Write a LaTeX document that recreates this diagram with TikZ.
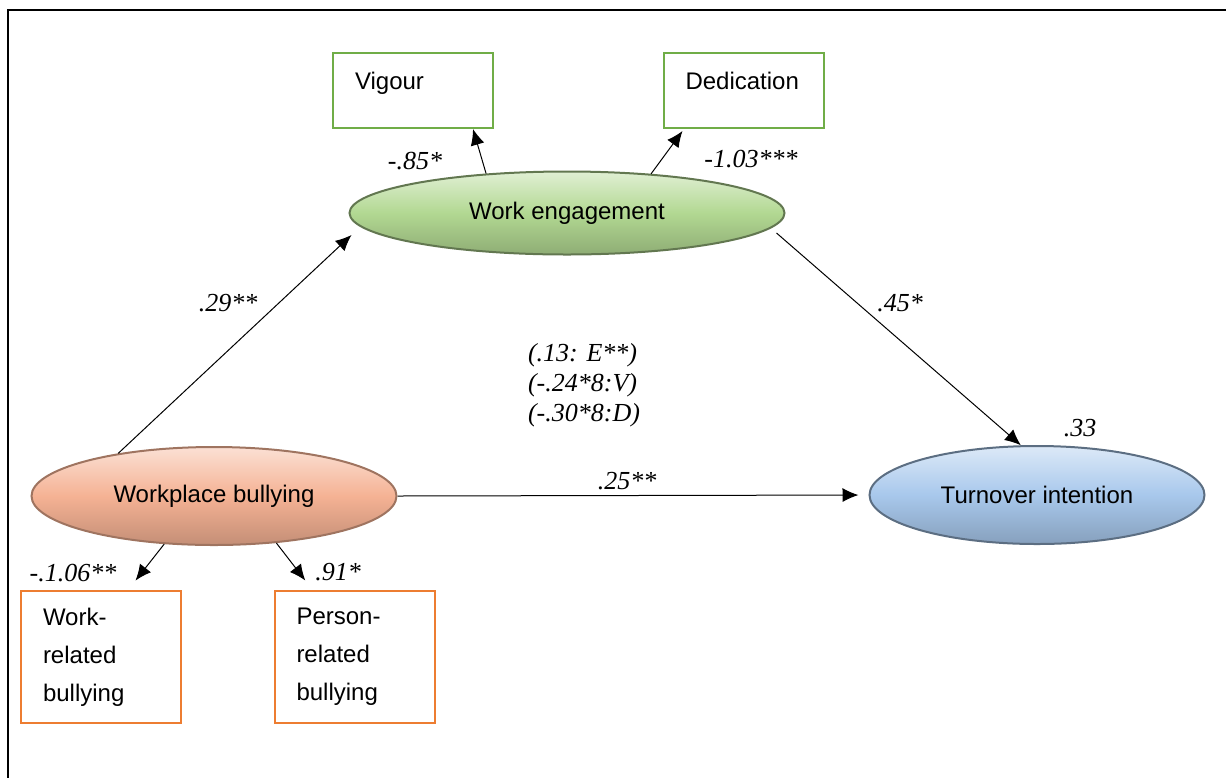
\documentclass[tikz,border=0pt]{standalone}
\usepackage{fontspec}
\setmainfont{Liberation Serif}
\setsansfont{Liberation Sans}
\usetikzlibrary{shapes.geometric,arrows.meta}

\definecolor{boxgreen}{RGB}{112,173,71}
\definecolor{boxorange}{RGB}{237,125,49}
\definecolor{wegreen}{RGB}{178,216,146}
\definecolor{wbpeach}{RGB}{245,178,148}
\definecolor{tiblue}{RGB}{168,200,236}

\tikzset{
  latent/.style={ellipse,inner sep=0pt,line width=1pt,
    font=\sffamily\fontsize{12}{14}\selectfont},
  indic/.style={rectangle,line width=1pt,inner xsep=11pt,align=left,
    text width=58pt,font=\sffamily\fontsize{12}{19}\selectfont},
  coef/.style={inner sep=0pt,font=\itshape\fontsize{13}{15}\selectfont},
  path/.style={line width=0.5pt,-{Latex[length=8pt,width=7pt]}}
}

\begin{document}
\begin{tikzpicture}[x=0.5pt,y=-0.5pt]
\useasboundingbox (0,0) rectangle (1226,778);
\draw[line width=1.2pt] (1226,10) -- (8,10) -- (8,778);

% latent variables
\node[latent,minimum width=217.5pt,minimum height=41.5pt,draw=wegreen!55!black,
  top color=wegreen!40,bottom color=wegreen!80!black,middle color=wegreen]
  (we) at (567,213) {Work engagement};
\node[latent,minimum width=182.5pt,minimum height=49pt,draw=wbpeach!65!black,
  top color=wbpeach!40,bottom color=wbpeach!80!black,middle color=wbpeach]
  (wb) at (214,496) {Workplace bullying};
\node[latent,minimum width=167.5pt,minimum height=49pt,draw=tiblue!55!black,
  top color=tiblue!40,bottom color=tiblue!80!black,middle color=tiblue]
  (ti) at (1037,495) {Turnover intention};

% indicators
\node[indic,draw=boxgreen,inner ysep=8pt,text height=10pt,text depth=11.5pt]
  (vig) at (413,90.5) {Vigour};
\node[indic,draw=boxgreen,inner ysep=8pt,text height=10pt,text depth=11.5pt]
  (ded) at (743.5,90.5) {Dedication};
\node[indic,draw=boxorange,minimum height=66pt] (wrb) at (101,657)
  {Work-\\related\\bullying};
\node[indic,draw=boxorange,minimum height=66pt] (prb) at (354.5,657)
  {Person-\\related\\bullying};

% paths
\draw[path] (wb.156) -- ([xshift=1.5pt,yshift=-11pt]we.west);
\draw[path] ([xshift=-4.5pt,yshift=-10pt]we.east) -- (ti.108);
\draw[path,shorten >=5pt] (wb.east) -- (ti.west);
\draw[path] (we.154) -- ([xshift=-10.5pt]vig.south east);
\draw[path] (we.25) -- ([xshift=10pt,yshift=-1pt]ded.south west);
\draw[path,shorten >=6pt] (wb.224) -- (wrb.68);
\draw[path,shorten >=6pt] (wb.-37) -- (prb.122);

% coefficients
\node[coef] (c1) at (228,303) {.29**};
\node[coef] (c2) at (900,303) {.45*};
\node[coef] (c3) at (627,481) {.25**};
\node[coef] (c4) at (415,161) {-.85*};
\node[coef] (c5) at (751,159) {-1.03***};
\node[coef] (c6) at (73,573) {-.1.06**};
\node[coef] (c7) at (338,572) {.91*};
\node[coef] (c8) at (1080,428) {.33};
\node[coef,align=left] (ind) at (584,385) {(.13: E**)\\(-.24*8:V)\\(-.30*8:D)};
\end{tikzpicture}
\end{document}
